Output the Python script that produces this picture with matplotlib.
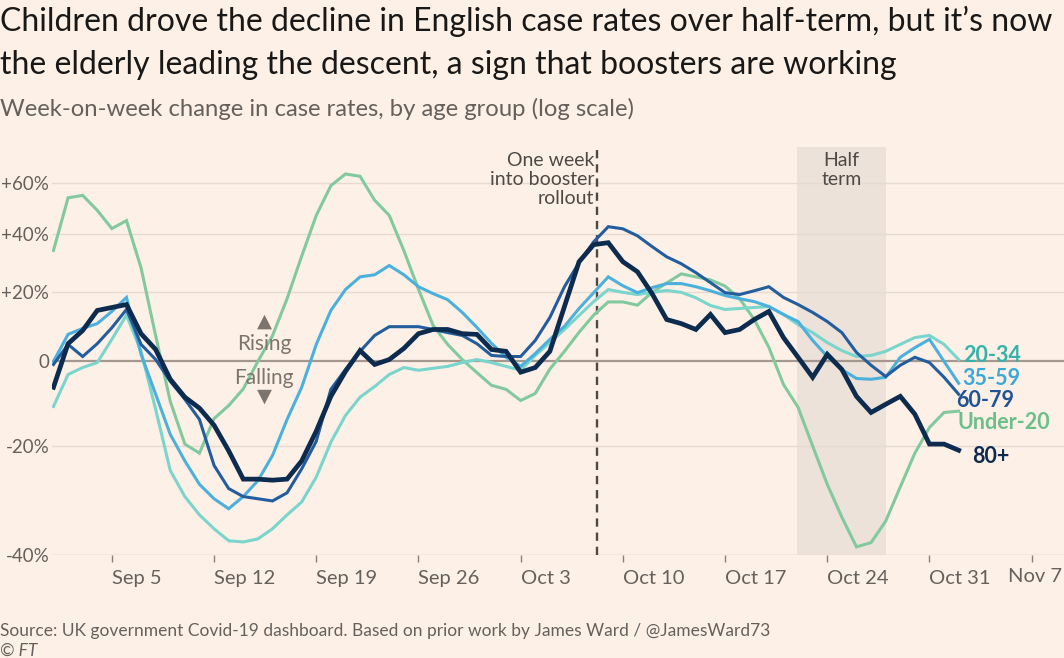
import matplotlib
matplotlib.use("Agg")
import matplotlib.pyplot as plt
import matplotlib.dates as mdates
import pandas as pd
import numpy as np

# ---- data: week-on-week change in case rates (%), daily Sep 1 - Nov 2 2021
dates = pd.date_range("2021-09-01", "2021-11-02", freq="D")

under_20 = [34, 54, 55, 49, 42, 45, 28, 7, -10, -19.6, -21.5, -14, -11, -7, 0,
            7, 18, 32, 47, 59, 64, 63, 53, 47, 34, 21, 10, 4.6, 0.5, -2.9,
            -6.1, -7.1, -9.8, -8.1, -2, 2.7, 8, 13, 17, 17, 16, 20, 23, 26, 25,
            24, 22, 18, 11.7, 3.8, -5.9, -11.4, -20, -27.7, -33.7, -38.7, -38, -34.4, -28.2, -21.5,
            -16, -12.6, -12.3]
age_20_34 = [-11.2, -3.4, -1.6, -0.3, 6, 13, 2.7, -11.9, -25, -30, -33.3, -35.7, -37.7, -37.9, -37.4,
             -35.7, -33.3, -31, -26.3, -19.2, -13.3, -9.0, -6.4, -3.4, -1.6, -2.3, -1.8, -1.3, -0.3, 0.5,
             -0.3, -1.3, -2.3, 1.6, 5.1, 8.8, 12.9, 17.1, 20.9, 20, 19.3, 20, 20.6, 20, 18.3,
             15.9, 14.7, 15, 15.3, 15.6, 13.2, 10.2, 7.9, 5.1, 2.9, 1.3, 1.6, 2.7, 4.6, 6.5,
             7.1, 4.6, 0.5]
age_35_59 = [0, 7.4, 9.1, 10.5, 14.1, 18.4, 1.9, -8.3, -17.5, -23.1, -27.7, -30.4, -32.2, -30, -27,
             -22, -14.2, -6.6, 4.6, 14.4, 20.9, 25, 25.7, 28.8, 25.7, 21.8, 19.6, 17.7, 13.8, 9.4,
             4.9, 1.1, -1.3, 2.1, 6, 9.7, 15, 19.9, 25, 22.1, 19.9, 21.5, 22.8, 22.8, 21.8,
             20.5, 19, 18, 17.1, 15.6, 13.2, 11.1, 5.7, 1.3, -2.1, -4.4, -4.6, -4.1, 1.1, 3.7,
             6.0, 0, -5.6]
age_60_79 = [-0.8, 4.6, 1.3, 4.8, 9.3, 14.7, 4.6, 0.5, -5.1, -9.5, -14.2, -24, -28.5, -30, -30.4,
             -30.8, -29.3, -24.7, -19, -7.1, -2.1, 2.7, 7.1, 9.6, 9.6, 9.6, 8.8, 7.9, 7.1, 4.8,
             1.6, 1.3, 1.3, 5.7, 12.3, 21.8, 29.8, 37.1, 42.7, 41.9, 39.3, 35.4, 31.8, 29.4, 26.4,
             23.1, 19.9, 19.3, 20.5, 21.8, 18.4, 16.2, 13.8, 11.1, 7.9, 2.4, -1.0, -3.9, -1.0, 1.1,
             -0.3, -4.1, -8.3]
age_80_plus = [-6.6, 4.8, 8.5, 14.4, 15.3, 16.2, 7.6, 3.2, -4.6, -9, -11.6, -15.5, -21, -26.7, -26.7,
               -26.9, -26.7, -23.1, -16.8, -8.8, -2.6, 2.9, -0.8, 0.5, 3.5, 7.6, 8.8, 8.8, 7.6, 7.4,
               3.2, 2.7, -2.8, -1.6, 2.7, 15.6, 30.1, 36.1, 36.8, 30.1, 26.7, 19.6, 11.7, 10.5, 8.8,
               13.2, 7.9, 8.8, 11.7, 14.1, 6.5, 1.1, -4.1, 1.9, -2.1, -8.8, -12.6, -10.7, -8.8, -13,
               -19.6, -19.6, -20.9]

groups = ["Under-20", "20-34", "35-59", "60-79", "80+"]
series = [under_20, age_20_34, age_35_59, age_60_79, age_80_plus]
line_colors = ["#82c99e", "#7ad5cc", "#4cb0dc", "#245d9d", "#0d2b4f"]
label_colors = ["#6cbf8a", "#35b3ab", "#3aa9d9", "#1f5394", "#0d2b4f"]
widths = [2.2, 2.2, 2.2, 2.2, 3.4]
# label y (as % change) and x offset in points from the last point
label_pos = [(-14.8, -1), (1.6, 3), (-4.4, 3), (-9.7, -2), (-22.1, 10)]

y_ticks = [-40, -20, 0, 20, 40, 60]
y_labels = ["-40%", "-20%", "0", "+20%", "+40%", "+60%"]
x_ticks = pd.date_range("2021-09-05", "2021-11-07", freq="7D")
x_labels = ["Sep 5", "Sep 12", "Sep 19", "Sep 26", "Oct 3",
            "Oct 10", "Oct 17", "Oct 24", "Oct 31", "Nov 7"]
booster = pd.Timestamp("2021-10-08 06:00")
half_term = (pd.Timestamp("2021-10-21 22:00"), pd.Timestamp("2021-10-28"))

BG = "#fdf1e7"
GREY = "#66605c"
DARK = "#4f4945"

plt.rcParams["font.family"] = ["Lato", "DejaVu Sans"]

fig = plt.figure(figsize=(10.64, 6.58), dpi=100, facecolor=BG)
W, H = 1064, 658
LEFT = 52
ax = fig.add_axes([LEFT / W, (H - 555) / H, (W - LEFT) / W, (555 - 147) / H])
ax.set_facecolor(BG)
ax.set_yscale("log")

x0 = pd.Timestamp("2021-09-01") - pd.Timedelta(hours=2.4)
ax.set_xlim(x0, x0 + pd.Timedelta(days=(W - LEFT) / 14.6))
ax.set_ylim(0.6, 1.761)

# grid
for t in y_ticks:
    if t == 0:
        ax.axhline(1.0, color="#a5998f", lw=1.6, zorder=1)
    else:
        ax.axhline(1 + t / 100, color="#e6dbd1", lw=1.0, zorder=1)

ax.axvspan(half_term[0], half_term[1], color="#ece2da", zorder=0, lw=0)
ax.axvline(booster, ymax=0.995, color=DARK, lw=1.7, ls=(0, (3.5, 2.5)), zorder=2)

for name, vals, c, lw in zip(groups, series, line_colors, widths):
    ratio = 1 + np.array(vals) / 100
    ax.plot(dates, ratio, color=c, lw=lw, zorder=3, solid_joinstyle="miter")

for name, vals, c, (ly, dx) in zip(groups, series, label_colors, label_pos):
    ax.annotate(name, xy=(dates[-1], 1 + ly / 100), xytext=(dx, 0),
                textcoords="offset points", ha="left", va="center",
                fontsize=15.5, color=c, fontweight="bold", zorder=5)

# axes formatting
ax.set_yticks([1 + t / 100 for t in y_ticks])
ax.set_yticklabels(y_labels)
ax.yaxis.set_minor_locator(matplotlib.ticker.NullLocator())
ax.tick_params(axis="y", length=0, pad=2, labelsize=13.5, labelcolor=GREY)

# x tick labels start at the tick (FT style); the last one is nudged left to fit
ax.set_xticks(x_ticks)
ax.set_xticklabels(x_labels[:-1] + [""])
ax.tick_params(axis="x", direction="out", length=5, width=1, color="#8a807a",
               pad=6, labelsize=14.5, labelcolor=GREY)
for lab in ax.get_xticklabels():
    lab.set_horizontalalignment("left")
ax.annotate(x_labels[-1], xy=(mdates.date2num(x_ticks[-1]), 0),
            xycoords=("data", "axes fraction"), xytext=(-17, -9.6),
            textcoords="offset points", ha="left", va="top",
            fontsize=14.5, color=GREY, annotation_clip=False)
for s in ax.spines.values():
    s.set_visible(False)
ax.axhline(0.6, color="#e6dbd1", lw=1.0, zorder=1)

# annotations
ax.text(booster - pd.Timedelta(hours=5), 1.74, "One week\ninto booster\nrollout",
        ha="right", va="top", fontsize=14, color=DARK, linespacing=1.15)
ax.text(half_term[0] + (half_term[1] - half_term[0]) / 2, 1.74, "Half\nterm",
        ha="center", va="top", fontsize=14, color=DARK, linespacing=1.15)

rx = pd.Timestamp("2021-09-15 10:00")
ax.text(rx, 1.046, "Rising", ha="center", va="center", fontsize=15, color="#7d746e")
ax.text(rx, 0.956, "Falling", ha="center", va="center", fontsize=15, color="#7d746e")
ax.text(rx, 1.112, "\u25B2", ha="center", va="center", fontsize=14, color="#7d746e",
        family="DejaVu Sans")
ax.text(rx, 0.912, "\u25BC", ha="center", va="center", fontsize=14, color="#7d746e",
        family="DejaVu Sans")

# titles and source
fig.text(0.0, 1 - 21 / H, "Children drove the decline in English case rates over half-term, but it\u2019s now",
         fontsize=23.0, color="#1a1817", ha="left", va="center")
fig.text(0.0, 1 - 65 / H, "the elderly leading the descent, a sign that boosters are working",
         fontsize=23.0, color="#1a1817", ha="left", va="center")
fig.text(0.0, 1 - 109 / H, "Week-on-week change in case rates, by age group (log scale)",
         fontsize=17.2, color=GREY, ha="left", va="center")
fig.text(0.0, 1 - 631 / H, "Source: UK government Covid-19 dashboard. Based on prior work by James Ward / @JamesWard73",
         fontsize=12.5, color=GREY, ha="left", va="center")
fig.text(0.0, 1 - 651 / H, "\u00a9 FT", fontsize=12.5, color=GREY, ha="left", va="center",
         style="italic")

fig.savefig("out.png", dpi=100, facecolor=BG)
